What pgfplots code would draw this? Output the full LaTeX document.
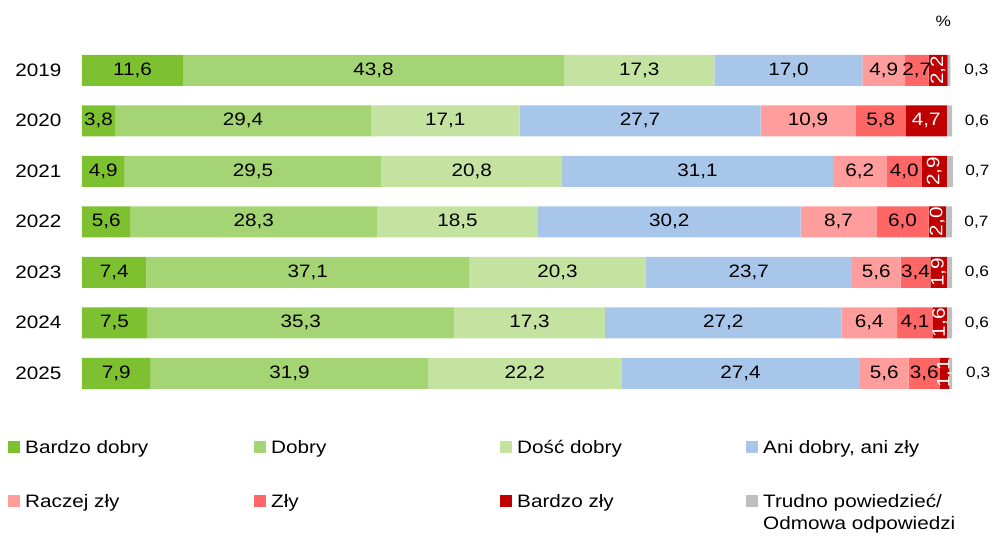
\documentclass[border=0pt]{standalone}
\usepackage{fontspec}
\setmainfont[FakeStretch=1.15]{Liberation Sans}
\usepackage{pgfplots}
\usepackage{pgfplotstable}
\pgfplotsset{compat=1.18}
\definecolor{cA}{HTML}{7DC030}
\definecolor{cB}{HTML}{A5D475}
\definecolor{cC}{HTML}{C4E2A0}
\definecolor{cD}{HTML}{A8C6E9}
\definecolor{cE}{HTML}{FF9D9D}
\definecolor{cF}{HTML}{FF6666}
\definecolor{cG}{HTML}{C00000}
\definecolor{cH}{HTML}{BFBFBF}
\pgfplotstableread{
y A D C N R Z BZ T
0 11.6 43.8 17.3 17.0 4.9 2.7 2.2 0.3
1 3.8 29.4 17.1 27.7 10.9 5.8 4.7 0.6
2 4.9 29.5 20.8 31.1 6.2 4.0 2.9 0.7
3 5.6 28.3 18.5 30.2 8.7 6.0 2.0 0.7
4 7.4 37.1 20.3 23.7 5.6 3.4 1.9 0.6
5 7.5 35.3 17.3 27.2 6.4 4.1 1.6 0.6
6 7.9 31.9 22.2 27.4 5.6 3.6 1.1 0.3
}\data
\newcommand{\fs}{\fontsize{18}{22}\selectfont}
\newcommand{\fss}{\fontsize{15}{18}\selectfont}
\begin{document}
\begin{tikzpicture}
\begin{axis}[
  at={(0,0)}, anchor=south west,
  scale only axis, width=870pt, height=353.5pt,
  clip=false,
  xbar stacked, bar width=31pt,
  xmin=0, xmax=100, ymin=-0.5, ymax=6.5, y dir=reverse,
  axis line style={draw=none},
  hide x axis,
  ytick={0,...,6}, yticklabels={2019,2020,2021,2022,2023,2024,2025},
  major tick length=0pt,
  yticklabel style={font=\fs, xshift=-17pt},
  /pgf/number format/.cd, use comma, fixed, fixed zerofill, precision=1, assume math mode=true,
  /pgfplots/.cd,
  nodes near coords,
  visualization depends on={rawx \as \rawx},
  every node near coord/.append style={font=\fs, anchor=center, text=black},
  legend image code/.code={\fill[#1] (0pt,-5pt) rectangle (12pt,7pt);},
  legend columns=4,
  legend cell align=left,
  legend style={draw=none, font=\fs, at={(axis description cs:0,0)}, anchor=north west,
     xshift=-74pt, yshift=-40pt, inner sep=0pt,
     /tikz/every even column/.append style={column sep=0pt},
     nodes={inner xsep=5pt},
     row sep=35pt},
]
\addplot[fill=cA, draw=none] table[x=A, y=y] {\data};
\addplot[fill=cB, draw=none] table[x=D, y=y] {\data};
\addplot[fill=cC, draw=none] table[x=C, y=y] {\data};
\addplot[fill=cD, draw=none] table[x=N, y=y] {\data};
\addplot[fill=cE, draw=none] table[x=R, y=y] {\data};
\addplot[fill=cF, draw=none] table[x=Z, y=y] {\data};
\addplot[fill=cG, draw=none, every node near coord/.append style={text=white, rotate={(\rawx<3)*90}}] table[x=BZ, y=y] {\data};
\addplot[fill=cH, draw=none, every node near coord/.style={font=\fss, text=black, anchor=west, xshift=12pt}] table[x=T, y=y] {\data};
\legend{\makebox[224pt][l]{Bardzo dobry}, \makebox[224pt][l]{Dobry}, \makebox[224pt][l]{Dość dobry}, \makebox[224pt][l]{Ani dobry, ani zły},
        \makebox[224pt][l]{Raczej zły}, \makebox[224pt][l]{Zły}, \makebox[224pt][l]{Bardzo zły}, \parbox[t]{224pt}{Trudno powiedzieć/\\Odmowa odpowiedzi}}
\node[font=\fss, anchor=center] at (axis description cs:0.99,1.0) [yshift=24pt] {\%};
\end{axis}
\pgfresetboundingbox
\useasboundingbox (-82pt,-137.5pt) rectangle (912pt,398.5pt);
\end{tikzpicture}
\end{document}
